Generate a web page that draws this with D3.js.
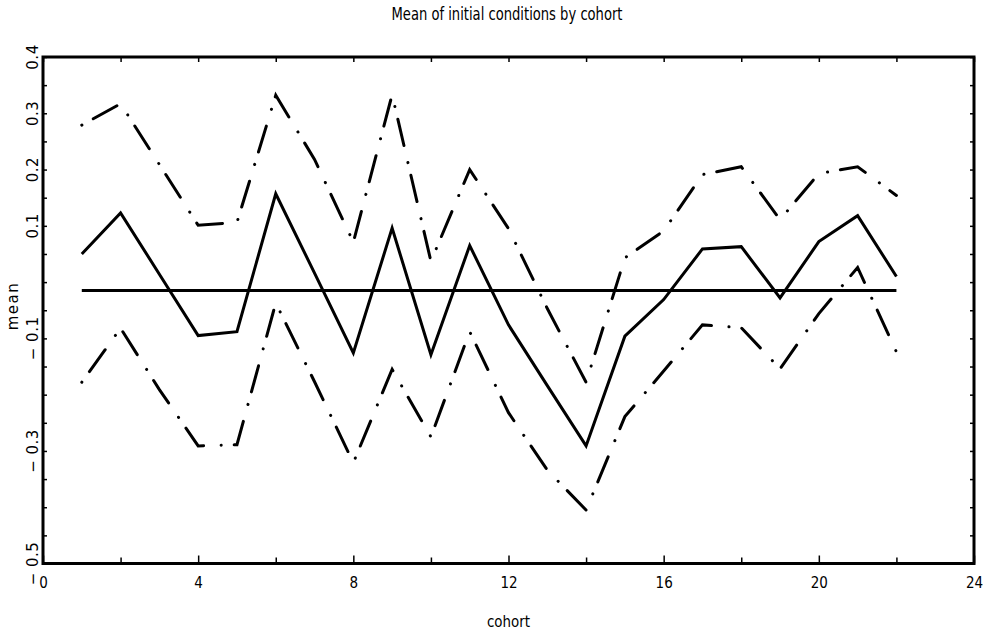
<!DOCTYPE html>
<html>
<head>
<meta charset="utf-8">
<script src="https://cdn.jsdelivr.net/npm/d3@7"></script>
<style>
  body { margin: 0; background: #fff; }
  svg { display: block; }
</style>
</head>
<body>
<svg id="drawing_region"></svg>
<script>
// values
const cohorts = [1, 2, 3, 4, 5, 6, 7, 8, 9, 10, 11, 12, 13, 14, 15, 16, 17, 18, 19, 20, 21, 22];
const meanValues = [0.050, 0.123, 0.014, -0.095, -0.088, 0.157, 0.016, -0.126, 0.096, -0.129, 0.065,
                    -0.076, -0.184, -0.291, -0.096, -0.031, 0.059, 0.063, -0.028, 0.072, 0.118, 0.010];
const upperValues = [0.279, 0.317, 0.209, 0.101, 0.106, 0.332, 0.218, 0.071, 0.333, 0.037, 0.200,
                     0.095, -0.047, -0.178, 0.043, 0.091, 0.191, 0.205, 0.111, 0.193, 0.205, 0.154];
const lowerValues = [-0.178, -0.082, -0.191, -0.291, -0.289, -0.037, -0.177, -0.321, -0.155, -0.275, -0.088,
                     -0.232, -0.334, -0.405, -0.239, -0.158, -0.076, -0.081, -0.154, -0.056, 0.026, -0.124];
const overallMean = -0.015;

const xTickValues = [0, 2, 4, 6, 8, 10, 12, 14, 16, 18, 20, 22, 24];
const xLabelValues = [0, 4, 8, 12, 16, 20, 24];
const yLabelValues = [0.4, 0.3, 0.2, 0.1, -0.1, -0.3, -0.5];

const titleText = "Mean of initial conditions by cohort";
const xTitle = "cohort";
const yTitle = "mean";

const W = 983, H = 635;
const frame = { left: 43, right: 974, top: 57, bottom: 563.5 };

const svg = d3.select('#drawing_region')
    .attr('width', W)
    .attr('height', H);

svg.append('rect').attr('width', W).attr('height', H).attr('fill', '#fff');

const xscale = d3.scaleLinear().domain([0, 24]).range([frame.left, frame.right]);
const yscale = d3.scaleLinear().domain([-0.5, 0.4]).range([frame.bottom, frame.top]);
const yTickValues = d3.range(-0.5, 0.401, 0.05);

const narrow = '"Liberation Sans Narrow", "DejaVu Sans Condensed", sans-serif';
const wide = '"DejaVu Sans", sans-serif';

// axes, ticks pointing inward
const xBottom = svg.append('g')
    .attr('transform', `translate(0, ${frame.bottom})`)
    .call(d3.axisBottom(xscale).tickValues(xTickValues).tickSize(-6).tickPadding(14)
        .tickFormat(d => xLabelValues.includes(d) ? d : ''));
xBottom.selectAll('.tick line').filter(d => d % 4 === 0).attr('y2', -8);

svg.append('g')
    .attr('transform', `translate(0, ${frame.top})`)
    .call(d3.axisTop(xscale).tickValues(xTickValues).tickSize(-5).tickFormat(''));

svg.append('g')
    .attr('transform', `translate(${frame.left}, 0)`)
    .call(d3.axisLeft(yscale).tickValues(yTickValues).tickSize(-4).tickFormat(''));

svg.append('g')
    .attr('transform', `translate(${frame.right}, 0)`)
    .call(d3.axisRight(yscale).tickValues(yTickValues).tickSize(-4).tickFormat(''));

svg.selectAll('.domain').remove();
svg.selectAll('.tick line').attr('stroke', '#000').attr('stroke-width', 1.5);
xBottom.selectAll('.tick text')
    .attr('font-family', narrow)
    .attr('font-size', 15)
    .attr('fill', '#000');

// rotated y labels, long minus set apart like the original
const fmt = d => d < 0 ? '\u2212 ' + d3.format('.1f')(-d) : d3.format('.1f')(d);
svg.append('g').selectAll('text')
    .data(yLabelValues)
    .enter()
    .append('text')
    .attr('transform', d => `translate(38, ${yscale(d)}) rotate(-90)`)
    .attr('text-anchor', 'middle')
    .attr('font-family', wide)
    .attr('font-size', 15)
    .attr('letter-spacing', 0.5)
    .text(d => fmt(d));

// frame
svg.append('rect')
    .attr('x', frame.left).attr('y', frame.top)
    .attr('width', frame.right - frame.left).attr('height', frame.bottom - frame.top)
    .attr('fill', 'none')
    .attr('stroke', '#000')
    .attr('stroke-width', 3);

// lines
const line = d3.line()
    .x((d, i) => xscale(cohorts[i]))
    .y(d => yscale(d));

svg.append('path')
    .attr('d', line(cohorts.map(() => overallMean)))
    .attr('fill', 'none')
    .attr('stroke', '#000')
    .attr('stroke-width', 3);

svg.append('path')
    .attr('d', line(meanValues))
    .attr('fill', 'none')
    .attr('stroke', '#000')
    .attr('stroke-width', 3);

[upperValues, lowerValues].forEach(vals => {
    svg.append('path')
        .attr('d', line(vals))
        .attr('fill', 'none')
        .attr('stroke', '#000')
        .attr('stroke-width', 3)
        .attr('stroke-linecap', 'round')
        .attr('stroke-dasharray', '0.1,13,27,17.5');
});

// titles
svg.append('text')
    .attr('x', 507).attr('y', 20)
    .attr('text-anchor', 'middle')
    .attr('font-family', narrow)
    .attr('font-size', 17)
    .attr('textLength', 231)
    .attr('lengthAdjust', 'spacingAndGlyphs')
    .text(titleText);

svg.append('text')
    .attr('x', xscale(12)).attr('y', 627)
    .attr('text-anchor', 'middle')
    .attr('font-family', narrow)
    .attr('font-size', 16)
    .attr('textLength', 43)
    .attr('lengthAdjust', 'spacingAndGlyphs')
    .text(xTitle);

svg.append('text')
    .attr('transform', 'translate(18, 306) rotate(-90)')
    .attr('text-anchor', 'middle')
    .attr('font-family', wide)
    .attr('font-size', 15)
    .attr('letter-spacing', 1.5)
    .text(yTitle);
</script>
</body>
</html>
